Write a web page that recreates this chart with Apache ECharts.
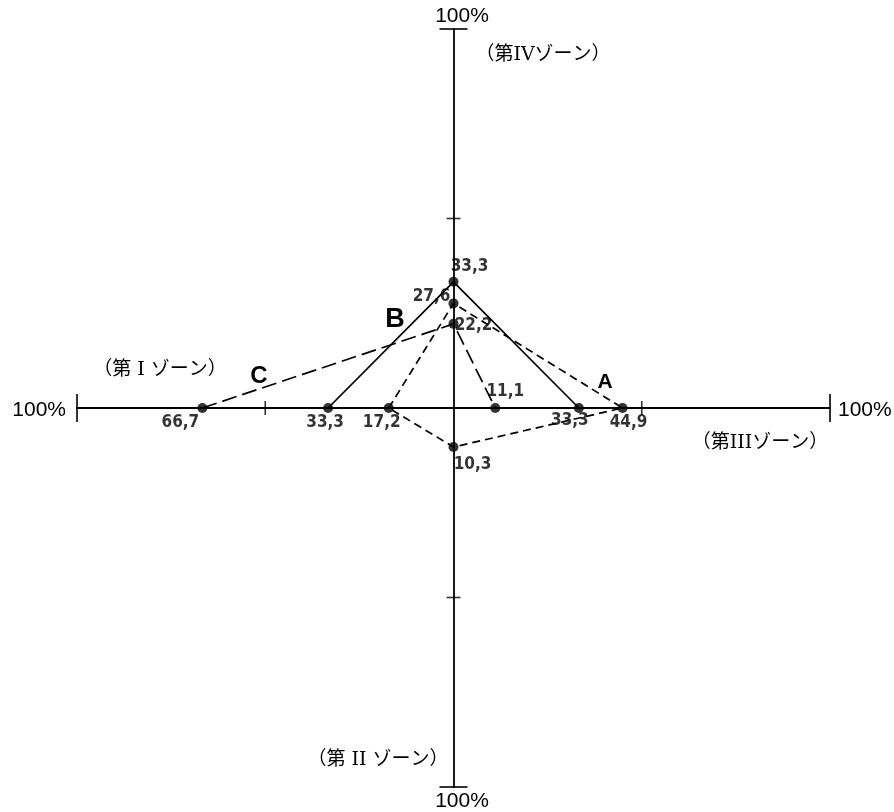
<!DOCTYPE html>
<html>
<head>
<meta charset="utf-8">
<script src="https://cdn.jsdelivr.net/npm/echarts@6/dist/echarts.min.js"></script>
<style>
html, body { margin: 0; padding: 0; background: #fff; }
#chart { width: 894px; height: 812px; }
</style>
</head>
<body>
<div id="chart"></div>
<script>
// zone order: 第I (left), 第II (bottom), 第III (right), 第IV (top)
var zoneNames = ['（第 I ゾーン）', '（第 II ゾーン）', '（第IIIゾーン）', '（第IVゾーン）'];
var seriesNames = ['A', 'B', 'C'];
var valuesA = [17.2, 10.3, 44.9, 27.6];
var valuesB = [33.3, 0, 33.3, 33.3];
var valuesC = [66.7, 0, 11.1, 22.2];
var tickValues = [50, 100];
var endLabel = '100%';

var allValues = [valuesA, valuesB, valuesC];

// direction of each zone on the plane
var zoneDir = [[-1, 0], [0, -1], [1, 0], [0, 1]];
// drawing order around the figure: I -> IV -> III -> II
var pathOrder = [0, 3, 2, 1];

var lineTypes = [[8, 5], 'solid', [15, 6]];
// label offsets (px) per series / zone, just styling
var labelOffsets = [
    [[-7, 15], [19, 18], [6, 15], [-22, -7]],
    [[-3, 15], null, [-9, 13], [16, -15]],
    [[-22, 15], null, [10, -16], [20, 2]]
];

function toXY(zone, v) {
    return [zoneDir[zone][0] * v, zoneDir[zone][1] * v];
}
function fmt(v) {
    return v.toFixed(1).replace('.', ',');
}

function buildPath(vals) {
    var zeroAt = -1;
    for (var i = 0; i < pathOrder.length; i++) {
        if (vals[pathOrder[i]] === 0) zeroAt = i;
    }
    var pts = [];
    if (zeroAt < 0) {
        pathOrder.forEach(function (z) { pts.push(toXY(z, vals[z])); });
        pts.push(pts[0]);
    } else {
        for (var k = 1; k < pathOrder.length; k++) {
            var z = pathOrder[(zeroAt + k) % pathOrder.length];
            pts.push(toXY(z, vals[z]));
        }
    }
    return pts;
}

var series = [];

// axis ticks
var tickData = [];
tickValues.forEach(function (t) {
    var big = t === 100;
    [-t, t].forEach(function (p) {
        tickData.push({ value: [p, 0], symbolSize: big ? [2, 28] : [1.6, 14] });
        tickData.push({ value: [0, p], symbolSize: big ? [28, 2] : [14, 1.6] });
    });
});
series.push({
    type: 'scatter',
    symbol: 'rect',
    itemStyle: { color: '#000' },
    data: tickData,
    silent: true,
    z: 1
});

allValues.forEach(function (vals, s) {
    series.push({
        name: seriesNames[s],
        type: 'line',
        data: buildPath(vals),
        showSymbol: false,
        lineStyle: { color: '#000', width: 1.7, type: lineTypes[s] },
        silent: true,
        z: 2
    });
    var dots = [];
    vals.forEach(function (v, z) {
        if (v === 0) return;
        dots.push({
            value: toXY(z, v),
            label: { offset: labelOffsets[s][z], formatter: fmt(v) }
        });
    });
    series.push({
        type: 'scatter',
        data: dots,
        symbolSize: 10,
        itemStyle: { color: '#000' },
        label: {
            show: true,
            position: 'inside',
            color: '#000',
            textBorderWidth: 0,
            fontFamily: '"Liberation Sans Narrow", "DejaVu Sans Condensed", sans-serif',
            fontWeight: 'bold',
            fontSize: 17
        },
        silent: true,
        z: 3
    });
});

function txt(text, x, y, font, align) {
    return {
        type: 'text', x: x, y: y,
        style: { text: text, font: font, fill: '#000', textAlign: align || 'center', textVerticalAlign: 'middle' }
    };
}
var pctFont = '21px "Liberation Sans", sans-serif';
var zoneFont = '19px "DejaVu Serif", "Noto Sans CJK JP", serif';

var myC = echarts.init(document.getElementById('chart'));
myC.setOption({
    backgroundColor: '#fff',
    animation: false,
    grid: { left: 77, right: 64, top: 29, bottom: 25 },
    xAxis: {
        type: 'value', min: -100, max: 100,
        axisLine: { show: true, onZero: true, lineStyle: { color: '#000', width: 1.8 } },
        axisTick: { show: false }, axisLabel: { show: false }, splitLine: { show: false }
    },
    yAxis: {
        type: 'value', min: -100, max: 100,
        axisLine: { show: true, onZero: true, lineStyle: { color: '#000', width: 1.8 } },
        axisTick: { show: false }, axisLabel: { show: false }, splitLine: { show: false }
    },
    graphic: [
        txt(endLabel, 66, 410, pctFont, 'right'),
        txt(endLabel, 838, 410, pctFont, 'left'),
        txt(endLabel, 462, 16, pctFont),
        txt(endLabel, 462, 801, pctFont),
        txt(zoneNames[0], 160, 370, zoneFont),
        txt(zoneNames[1], 378, 760, zoneFont),
        txt(zoneNames[2], 760, 443, zoneFont),
        txt(zoneNames[3], 543, 55, zoneFont),
        txt(seriesNames[0], 605, 382, 'bold 21px "Liberation Sans", sans-serif'),
        txt(seriesNames[1], 395, 320, 'bold 27px "Liberation Sans", sans-serif'),
        txt(seriesNames[2], 259, 376, 'bold 24px "Liberation Sans", sans-serif')
    ],
    series: series
});
</script>
</body>
</html>
